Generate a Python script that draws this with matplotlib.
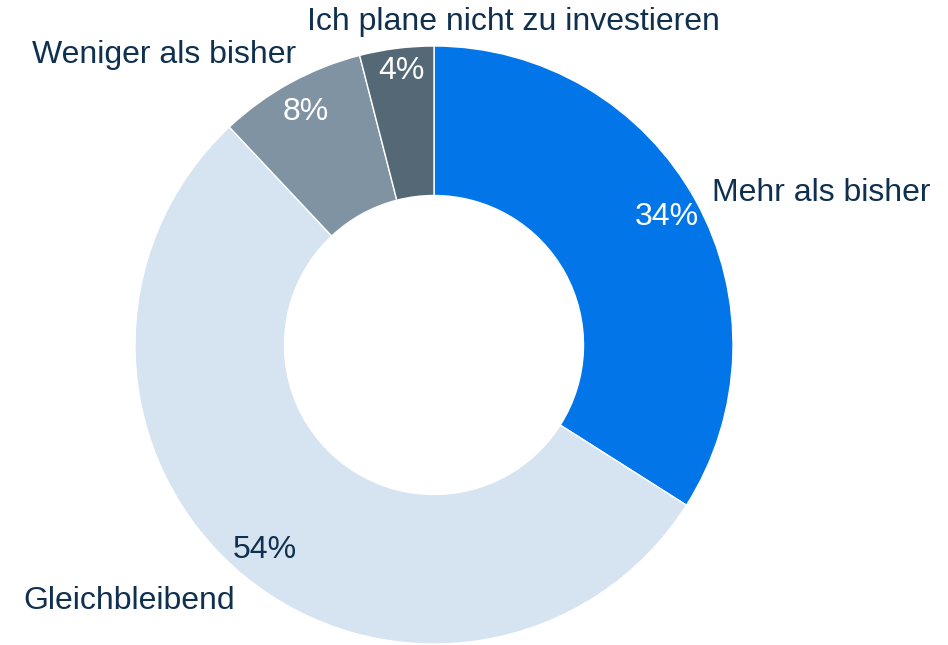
import matplotlib.pyplot as plt

plt.rcParams['font.family'] = ['Liberation Sans', 'DejaVu Sans']

labels = ['Mehr als bisher', 'Gleichbleibend', 'Weniger als bisher', 'Ich plane nicht zu investieren']
values = [34, 54, 8, 4]
colors = ['#0276E8', '#D6E3F0', '#7F93A3', '#556876']
pct_colors = ['white', '#10304F', 'white', 'white']
text_color = '#10304F'

fig = plt.figure(figsize=(9.48, 6.45), dpi=100)
ax = fig.add_axes([0, 0, 1, 1])

wedges, texts, pcts = ax.pie(
    values, labels=labels, colors=colors, startangle=90, counterclock=False,
    autopct='%d%%', pctdistance=0.89, labeldistance=1.07,
    wedgeprops=dict(width=0.5, edgecolor='white', linewidth=1),
    textprops=dict(fontsize=23, color=text_color))

for t, c in zip(pcts, pct_colors):
    t.set_color(c)
pcts[3].set_position((-0.11, 0.915))

# outside labels nudged to where the original puts them
texts[0].set_position((0.93, 0.51))
texts[1].set_position((-0.665, -0.855))
texts[2].set_position((-0.46, 0.97))
texts[3].set_horizontalalignment('center')
texts[3].set_position((0.265, 1.08))

r = 299
ax.set_xlim(-434 / r, (948 - 434) / r)
ax.set_ylim(-300 / r, 345 / r)
ax.set_aspect('auto')
ax.axis('off')

fig.savefig('out.png', dpi=100)
